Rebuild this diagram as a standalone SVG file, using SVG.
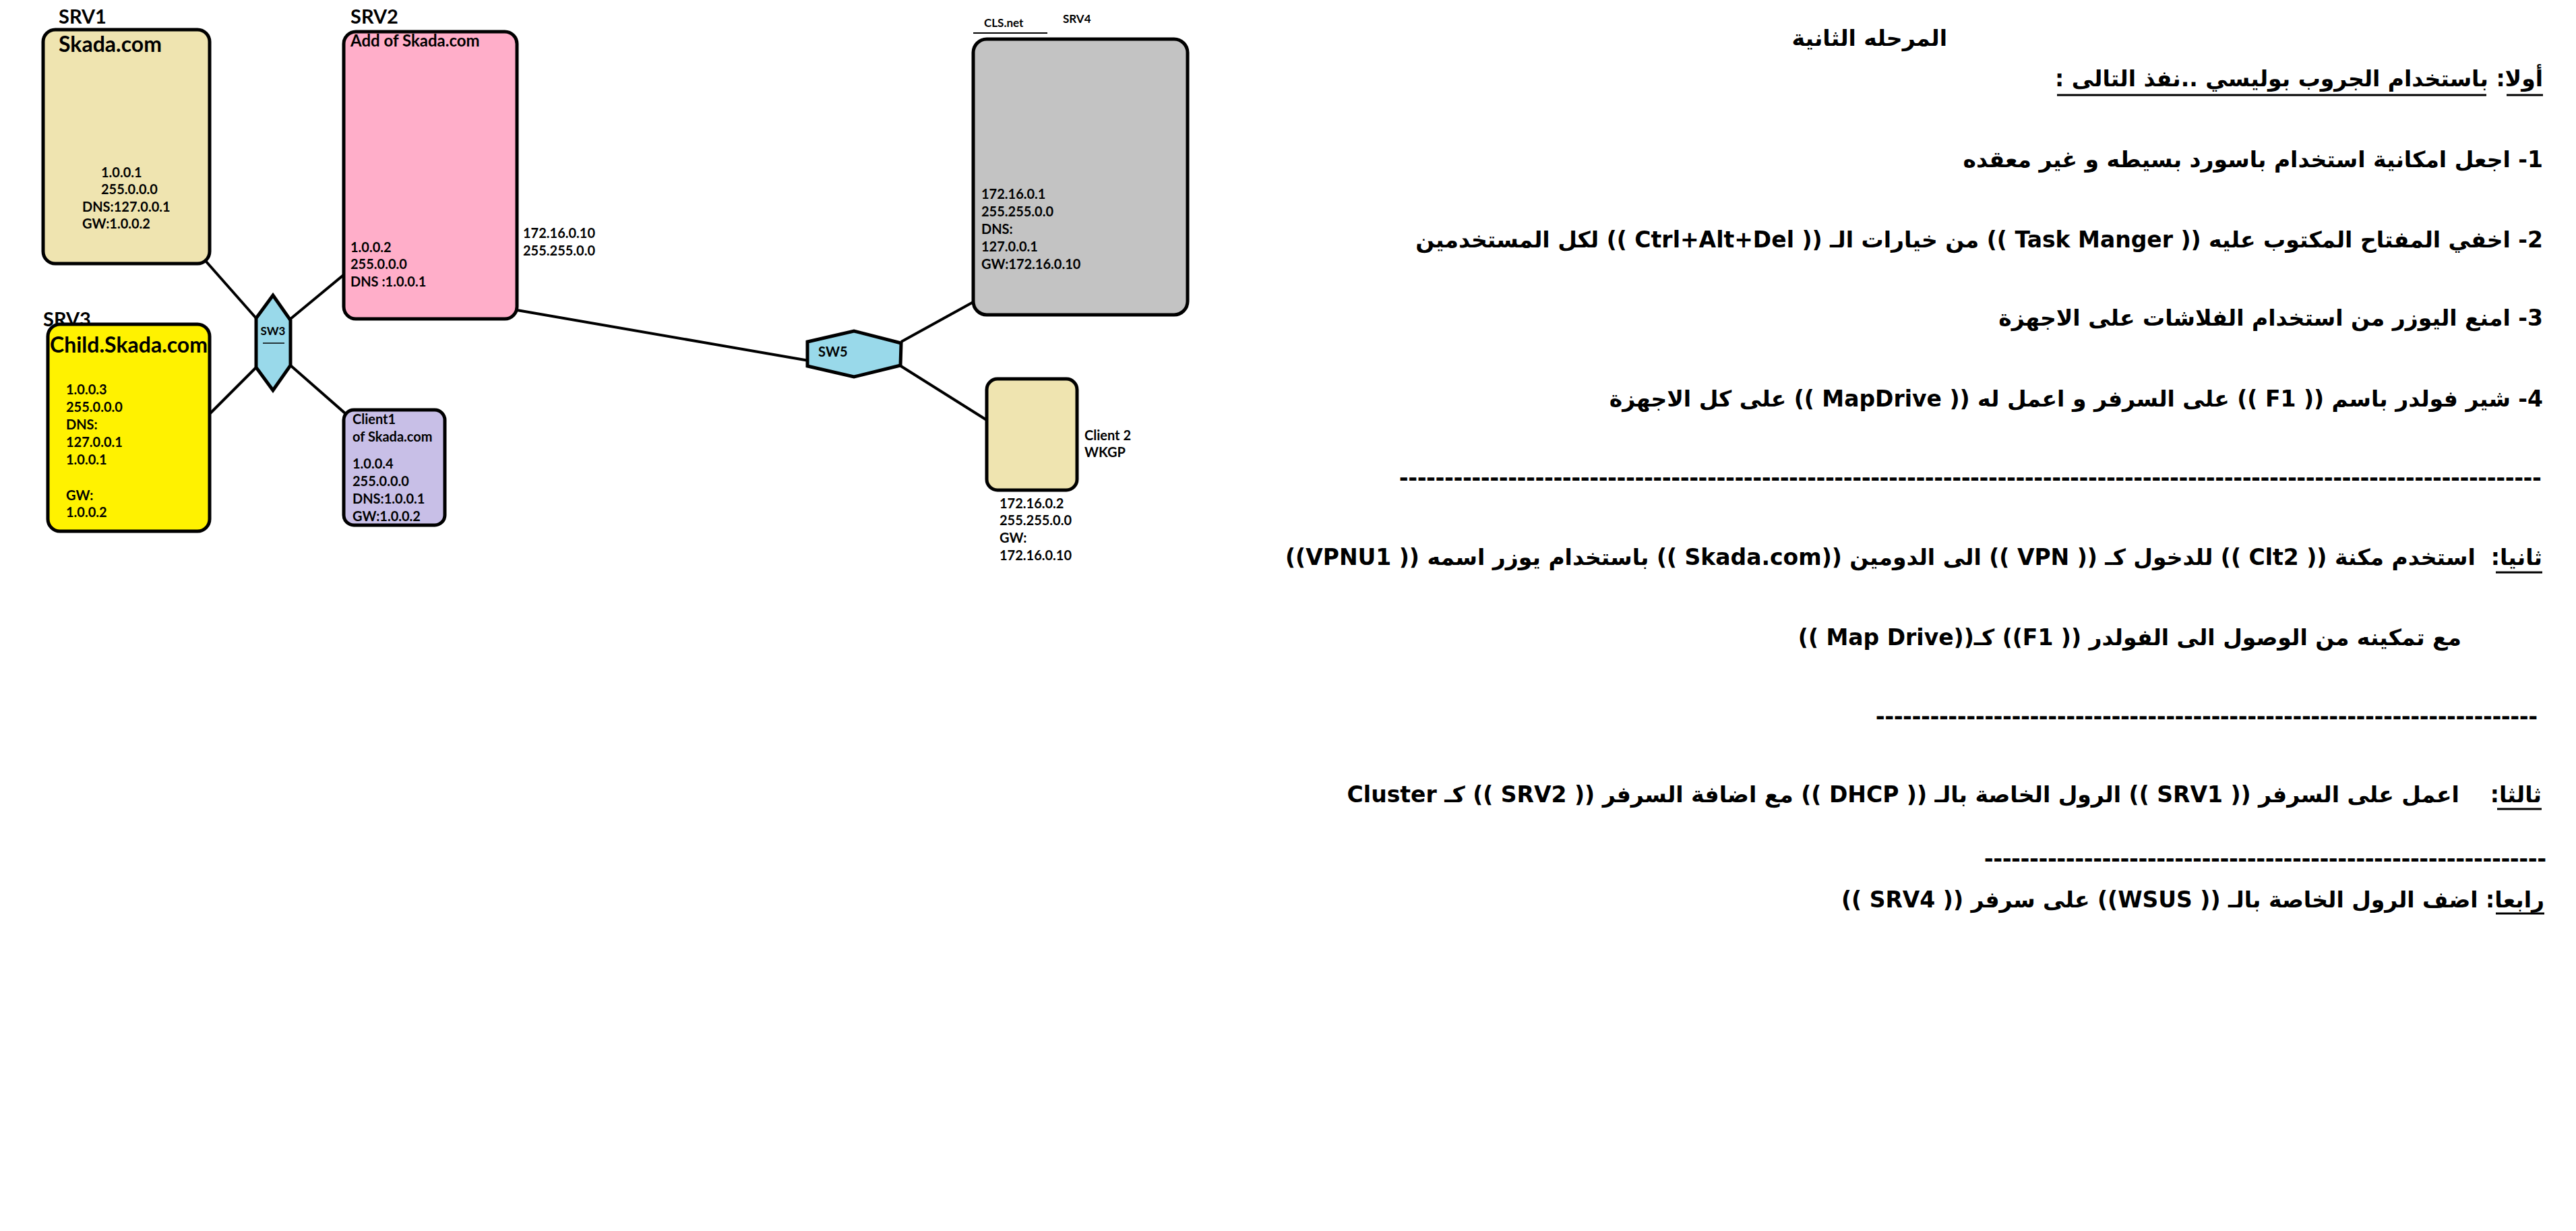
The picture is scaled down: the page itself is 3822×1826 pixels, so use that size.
<svg xmlns="http://www.w3.org/2000/svg" width="3822" height="1826" viewBox="0 0 3822 1826">
<style>
.box{stroke:#000;stroke-width:5}
.sw{fill:#99D9EA;stroke:#000;stroke-width:5;stroke-linejoin:miter}
.conn line{stroke:#000;stroke-width:4}
.t{font-family:Lato,'Open Sans',sans-serif;font-weight:bold;fill:#000}
.lbl{font-size:29px}
.big{font-size:32px}
.ip{font-size:20px}
.sm{font-size:17px}
.ar{font-family:'DejaVu Sans',sans-serif;font-weight:bold;font-size:33px;fill:#000;white-space:pre}
.dash{font-family:'Liberation Sans',Arial,sans-serif;font-weight:bold;font-size:40.4px;fill:#000}
.ul{stroke:#000;stroke-width:3}
</style>
<rect width="3822" height="1826" fill="#fff"/>

<g class="conn" id="connectors">
<line x1="305" y1="387" x2="380" y2="472"/>
<line x1="512" y1="406" x2="431" y2="473"/>
<line x1="312" y1="613" x2="380" y2="545"/>
<line x1="512" y1="613" x2="431" y2="542"/>
<line x1="767" y1="460" x2="1200" y2="535"/>
<line x1="1337" y1="507" x2="1444" y2="448"/>
<line x1="1335" y1="542" x2="1467" y2="625"/>
</g>

<g id="srv1">
<text class="t lbl" x="87" y="35">SRV1</text>
<rect class="box" x="64" y="44" width="247" height="347" rx="18" fill="#EFE4B0"/>
<text class="t big" x="87" y="77">Skada.com</text>
<text class="t ip" x="150" y="263">1.0.0.1</text>
<text class="t ip" x="150" y="288">255.0.0.0</text>
<text class="t ip" x="122" y="314">DNS:127.0.0.1</text>
<text class="t ip" x="122" y="339">GW:1.0.0.2</text>
</g>

<g id="srv2">
<text class="t lbl" x="520" y="35">SRV2</text>
<rect class="box" x="510" y="47" width="257" height="426" rx="18" fill="#FFAEC9"/>
<text class="t" font-size="24" x="520" y="69">Add of Skada.com</text>
<text class="t ip" x="520" y="374">1.0.0.2</text>
<text class="t ip" x="520" y="399">255.0.0.0</text>
<text class="t ip" x="520" y="425">DNS :1.0.0.1</text>
<text class="t ip" x="776" y="353">172.16.0.10</text>
<text class="t ip" x="776" y="379">255.255.0.0</text>
</g>

<g id="srv3">
<text class="t lbl" x="64" y="484">SRV3</text>
<rect class="box" x="71" y="481" width="240" height="307" rx="18" fill="#FFF200"/>
<text class="t big" x="74" y="523">Child.Skada.com</text>
<text class="t ip" x="98" y="585">1.0.0.3</text>
<text class="t ip" x="98" y="611">255.0.0.0</text>
<text class="t ip" x="98" y="637">DNS:</text>
<text class="t ip" x="98" y="663">127.0.0.1</text>
<text class="t ip" x="98" y="689">1.0.0.1</text>
<text class="t ip" x="98" y="742">GW:</text>
<text class="t ip" x="98" y="767">1.0.0.2</text>
</g>

<g id="sw3">
<polygon class="sw" points="405,438 431,475 431,542 405,579 380,545 380,472"/>
<text class="t sm" x="405" y="497" text-anchor="middle">SW3</text>
<line x1="390" y1="509" x2="422" y2="509" stroke="#000" stroke-width="1.5"/>
</g>

<g id="client1">
<rect class="box" x="510" y="608" width="150" height="171" rx="15" fill="#C8BFE7"/>
<text class="t ip" x="523" y="629">Client1</text>
<text class="t ip" x="523" y="655">of Skada.com</text>
<text class="t ip" x="523" y="695">1.0.0.4</text>
<text class="t ip" x="523" y="721">255.0.0.0</text>
<text class="t ip" x="523" y="747">DNS:1.0.0.1</text>
<text class="t ip" x="523" y="773">GW:1.0.0.2</text>
</g>

<g id="sw5">
<polygon class="sw" points="1198,507 1267,491 1337,509 1336,542 1267,559 1198,543"/>
<text class="t ip" x="1214" y="529">SW5</text>
</g>

<g id="srv4">
<text class="t sm" x="1460" y="40">CLS.net</text>
<line x1="1444" y1="49" x2="1554" y2="49" stroke="#000" stroke-width="2"/>
<text class="t sm" x="1577" y="34">SRV4</text>
<rect class="box" x="1444" y="58" width="318" height="409" rx="20" fill="#C3C3C3"/>
<text class="t ip" x="1456" y="295">172.16.0.1</text>
<text class="t ip" x="1456" y="321">255.255.0.0</text>
<text class="t ip" x="1456" y="347">DNS:</text>
<text class="t ip" x="1456" y="373">127.0.0.1</text>
<text class="t ip" x="1456" y="399">GW:172.16.0.10</text>
</g>

<g id="client2">
<rect class="box" x="1464" y="562" width="134" height="165" rx="16" fill="#EFE4B0"/>
<text class="t ip" x="1609" y="653">Client 2</text>
<text class="t ip" x="1609" y="678">WKGP</text>
<text class="t ip" x="1483" y="754">172.16.0.2</text>
<text class="t ip" x="1483" y="779">255.255.0.0</text>
<text class="t ip" x="1483" y="805">GW:</text>
<text class="t ip" x="1483" y="831">172.16.0.10</text>
</g>

<g id="instructions">
<text class="ar" x="2889" y="68" text-anchor="end" font-size="33">&#x202B;المرحله الثانية&#x202C;</text>
<text class="ar" x="3773" y="128" text-anchor="end" font-size="32.8">&#x202B;أولا: باستخدام الجروب بوليسي ..نفذ التالى :&#x202C;</text>
<line class="ul" x1="3052" y1="141" x2="3689" y2="141"/>
<line class="ul" x1="3719" y1="141" x2="3773" y2="141"/>
<text class="ar" x="3773" y="248" text-anchor="end" font-size="34.2">&#x202B;1- اجعل امكانية استخدام باسورد بسيطه و غير معقده&#x202C;</text>
<text class="ar" x="3773" y="367" text-anchor="end" font-size="34">&#x202B;2- اخفي المفتاح المكتوب عليه (( Task Manger )) من خيارات الـ (( Ctrl+Alt+Del )) لكل المستخدمين&#x202C;</text>
<text class="ar" x="3773" y="483" text-anchor="end" font-size="32.8">&#x202B;3- امنع اليوزر من استخدام الفلاشات على الاجهزة&#x202C;</text>
<text class="ar" x="3773" y="603" text-anchor="end" font-size="31.4">&#x202B;4- شير فولدر باسم (( F1 )) على السرفر و اعمل له (( MapDrive )) على كل الاجهزة&#x202C;</text>
<text class="dash" x="2076" y="721">------------------------------------------------------------------------------------------------------------------------------</text>
<text class="ar" x="3772" y="838" text-anchor="end" font-size="34.6">&#x202B;ثانيا:  استخدم مكنة (( Clt2 )) للدخول كـ (( VPN )) الى الدومين ((Skada.com )) باستخدام يوزر اسمه (( VPNU1))&#x202C;</text>
<line class="ul" x1="3703" y1="849" x2="3772" y2="849"/>
<text class="ar" x="3652" y="957" text-anchor="end" font-size="34.5">&#x202B;مع تمكينه من الوصول الى الفولدر (( F1)) كـ((Map Drive ))&#x202C;</text>
<text class="dash" x="2783" y="1075">-------------------------------------------------------------------------</text>
<text class="ar" x="3771" y="1190" text-anchor="end" font-size="32">&#x202B;ثالثا:    اعمل على السرفر (( SRV1 )) الرول الخاصة بالـ (( DHCP )) مع اضافة السرفر (( SRV2 )) كـ Cluster&#x202C;</text>
<line class="ul" x1="3705" y1="1200" x2="3771" y2="1200"/>
<text class="dash" x="2944" y="1286">--------------------------------------------------------------</text>
<text class="ar" x="3775" y="1346" text-anchor="end" font-size="32.7">&#x202B;رابعا: اضف الرول الخاصة بالـ (( WSUS)) على سرفر (( SRV4 ))&#x202C;</text>
<line class="ul" x1="3703" y1="1355" x2="3775" y2="1355"/>
</g>
</svg>
